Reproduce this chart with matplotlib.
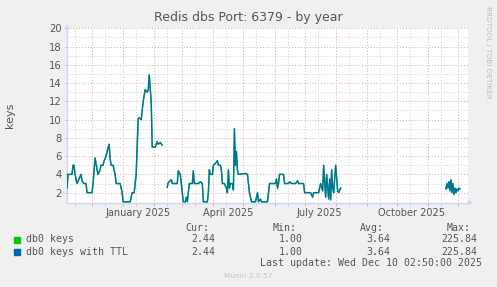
import matplotlib
matplotlib.use("Agg")
import matplotlib.pyplot as plt
import matplotlib.dates as mdates
import numpy as np
import pandas as pd

W, H = 497, 287

# time axis of the munin "by year" graph: 400 days
start = pd.Timestamp("2024-11-06")
end = pd.Timestamp("2025-12-11")

# days since start, and key counts (nan = no data)
days = [0, 1, 5, 6, 7, 8, 9, 10, 12, 14, 15, 17, 19, 20, 25, 26, 28, 30, 31, 33,
        34, 36, 37, 39, 40, 42, 43, 44, 46, 48, 49, 53, 55, 56, 63, 65, 67, 69, 71, 72,
        74, 75, 76, 78, 80, 81, 82, 84, 85, 88, 90, 91, 93, 95,
        97,
        100, 101, 104, 105, 110, 111, 113, 114, 115, 116, 118, 119, 120, 121, 122, 125, 126, 127, 131,
        133, 135, 136, 140, 141, 142, 143, 145, 146, 148, 150, 151, 153, 154, 155, 157, 159, 160,
        161, 162, 163, 165, 166, 167, 168, 169, 170, 171, 178, 180, 181, 182, 184, 188, 190, 191,
        193, 194, 200, 202, 208, 209, 210, 211, 212, 216, 217, 221, 222, 224, 228, 230, 231, 236,
        237, 243, 245, 246, 251, 253, 255, 256, 258, 259, 261, 262, 263, 264, 265, 266, 268, 270,
        271, 273,
        300,
        378, 379, 380, 381, 382, 383, 384, 385, 386, 387, 388, 389, 390, 391, 392]
keys = [2.5, 4, 4, 5, 5, 4, 3.5, 3, 3.5, 4, 3.3, 3, 3, 2, 2, 3, 5.8, 4.5, 4, 4.5,
        5, 5, 5.5, 6, 6.5, 7.3, 5.8, 5, 5, 4, 3, 3, 2, 1, 1, 2, 2, 4, 10.1, 10.2,
        10, 11, 12, 13.3, 13, 13.2, 14.9, 12, 7, 7, 7.6, 7.3, 7.5, 7.2,
        np.nan,
        2.6, 3.1, 3.4, 3, 3, 4.4, 4, 3, 2, 1, 1, 1.5, 1, 2, 3, 3, 4.4, 3, 3,
        3.2, 3, 1, 1, 2, 4.5, 4, 4, 5, 5.2, 5.5, 5, 5, 4.5, 3, 3, 2.5, 2,
        4.5, 2.5, 3, 3, 2.3, 9, 5, 6.5, 4.5, 4, 4.1, 4, 3, 2, 1, 1, 2, 1,
        1.3, 1, 1, 3, 3, 3.5, 2.5, 3, 4, 4, 3, 3, 3.2, 3, 3, 3.3, 3, 3,
        2, 2, 1.5, 2, 2, 3, 2.2, 5, 1.5, 4, 1.3, 3.5, 1.2, 4.5, 2.5, 2, 5, 2.2,
        2, 2.5,
        np.nan,
        2.4, 3, 2.5, 3.2, 2.2, 3.4, 2, 3, 1.8, 2.5, 2, 2.4, 2.2, 2.5, 2.4]
keys_ttl = list(keys)

series = ["db0 keys", "db0 keys with TTL"]
colors = ["#00CC00", "#0066B3"]
cur = ["2.44", "2.44"]
vmin = ["1.00", "1.00"]
avg = ["3.64", "3.64"]
vmax = ["225.84", "225.84"]

yticks = [2, 4, 6, 8, 10, 12, 14, 16, 18, 20]
month_labels = ["January 2025", "April 2025", "July 2025", "October 2025"]
label_dates = ["2025-01-16", "2025-04-16", "2025-07-16", "2025-10-16"]

fontc = "#555555"
axisc = "#CFD6F8"


def fx(x):
    return x / W


def fy(y):
    return 1 - y / H


fig = plt.figure(figsize=(W / 100, H / 100), dpi=100, facecolor="#F0F0F0")
ax = fig.add_axes([fx(67), fy(202.7), fx(401), 174.4 / H])
ax.set_facecolor("white")

dates = [start + pd.Timedelta(days=d) for d in days]
ax.plot(dates, keys, color=colors[0], lw=1.0, zorder=5)
ax.plot(dates, keys_ttl, color=colors[1], lw=1.0, alpha=0.88, zorder=6)

ax.set_xlim(start, end)
ax.set_ylim(0.9, 20)

# grid: gray minor, red major, dotted
dot = (0, (1, 2))
for v in range(2, 21):
    c = "#E9A3A3" if v % 2 == 0 else "#CFCFCF"
    ax.axhline(v, color=c, lw=0.7, ls=dot, zorder=1)
months = pd.date_range("2024-12-01", "2025-12-01", freq="MS")
minors = [m for m in pd.date_range("2024-11-01", "2025-12-01", freq="MS") + pd.Timedelta(days=13)
          if start < m < end]
for m in minors:
    ax.axvline(m, color="#CFCFCF", lw=0.7, ls=dot, zorder=1)
for m in months:
    ax.axvline(m, color="#E9A3A3", lw=0.7, ls=dot, zorder=1)

for s in ["top", "right"]:
    ax.spines[s].set_visible(False)
for s in ["left", "bottom"]:
    ax.spines[s].set_color(axisc)
    ax.spines[s].set_linewidth(1.0)
    ax.spines[s].set_zorder(4)

ax.set_yticks(yticks)
ax.set_yticklabels([str(v) for v in yticks])
ax.tick_params(axis="y", length=1.5, pad=2.5, colors="#E9A3A3", labelcolor=fontc,
               labelsize=7.2, width=0.7)
ax.set_xticks(months)
ax.set_xticklabels([])
ax.xaxis.set_minor_locator(matplotlib.ticker.FixedLocator(mdates.date2num(minors)))
ax.tick_params(axis="x", which="major", length=2, width=0.7, colors="#E9A3A3")
ax.tick_params(axis="x", which="minor", length=2, width=0.7, colors="#CFCFCF")

for lab, d in zip(month_labels, label_dates):
    ax.annotate(lab, xy=(pd.Timestamp(d), 0), xycoords=("data", "axes fraction"),
                xytext=(0, -7.5), textcoords="offset points", ha="center", va="center",
                fontsize=7.0, color=fontc, annotation_clip=False)

# axis arrows
ax.annotate("", xy=(0, 1.04), xytext=(0, 0.99), xycoords="axes fraction",
            arrowprops=dict(arrowstyle="-|>", color=axisc, lw=1, mutation_scale=6),
            annotation_clip=False)
ax.annotate("", xy=(1.02, 0), xytext=(0.995, 0), xycoords="axes fraction",
            arrowprops=dict(arrowstyle="-|>", color=axisc, lw=1, mutation_scale=6),
            annotation_clip=False)

fig.text(fx(248.5), fy(18), "Redis dbs Port: 6379 - by year", ha="center", va="center",
         fontsize=9.0, color=fontc)
fig.text(fx(10), fy(115), "keys", rotation=90, ha="center", va="center",
         fontsize=8, color=fontc)
fig.text(fx(488), fy(52), "RRDTOOL / TOBI OETIKER", rotation=270, ha="center", va="center",
         fontsize=5.2, color="#BBBBBB")

mono = "DejaVu Sans Mono"
fs = 7.1
for txt, x in zip(["Cur:", "Min:", "Avg:", "Max:"], [185, 272.7, 360, 446.7]):
    fig.text(fx(x), fy(227.7), txt, ha="left", va="center", family=mono, fontsize=fs, color=fontc)
rows = [239.5, 251.7]
for i in range(2):
    y = rows[i]
    fig.patches.append(plt.Rectangle((fx(14), fy(y + 3)), fx(6), 6 / H, color=colors[i],
                                     transform=fig.transFigure, figure=fig))
    fig.text(fx(26), fy(y), series[i], ha="left", va="center", family=mono, fontsize=fs,
             color=fontc)
    for val, x in zip([cur[i], vmin[i], avg[i], vmax[i]], [215, 302.7, 390, 477.3]):
        fig.text(fx(x), fy(y), val, ha="right", va="center", family=mono, fontsize=fs,
                 color=fontc)
fig.text(fx(482.3), fy(263.3), "Last update: Wed Dec 10 02:50:00 2025", ha="right",
         va="center", family=mono, fontsize=fs, color=fontc)
fig.text(fx(248), fy(276), "Munin 2.0.57", ha="center", va="center", fontsize=5.3,
         color="#C4C4C4")

fig.savefig("out.png", dpi=100, facecolor=fig.get_facecolor())
